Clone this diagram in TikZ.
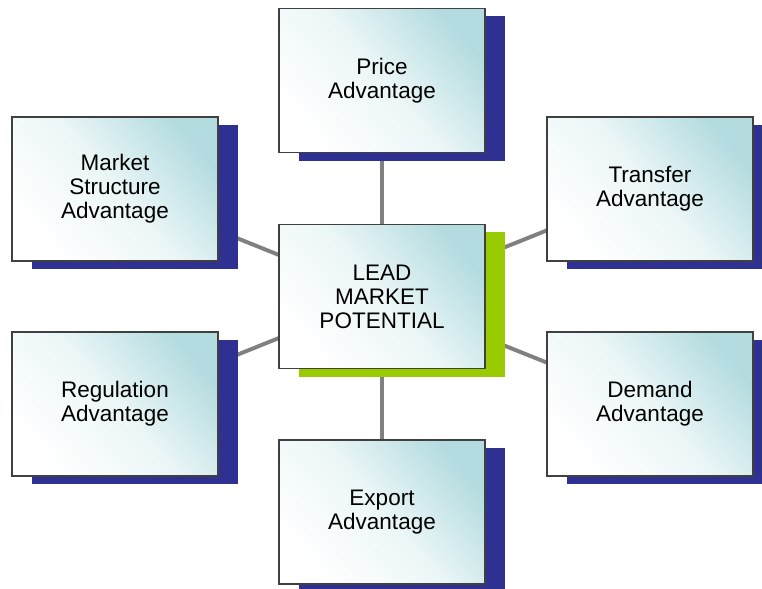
\documentclass[tikz,border=0pt]{standalone}
\usepackage{fontspec}
\setmainfont{Liberation Sans}
\usepackage{xcolor}
\usetikzlibrary{shadows,backgrounds}

\definecolor{shadownavy}{RGB}{46,49,146}
\definecolor{shadowgreen}{RGB}{153,204,0}
\definecolor{boxteal}{RGB}{180,220,224}
\definecolor{linkgray}{RGB}{128,128,128}

\tikzset{
    advbox/.style={draw=black!75, line width=0.8pt, minimum width=5.15cm, minimum height=3.6cm,
        align=center, font=\fontsize{16}{17}\selectfont,
        top color=boxteal, bottom color=white, middle color=boxteal!25, shading angle=-50,
        general shadow={fill=shadownavy, shadow xshift=0.5cm, shadow yshift=-0.2cm}},
    leadbox/.style={advbox, general shadow={fill=shadowgreen, shadow xshift=0.5cm, shadow yshift=-0.2cm}},
    link/.style={linkgray, line width=2.8pt}
}

\begin{document}
\begin{tikzpicture}[x=0.025cm, y=-0.025cm]
    \useasboundingbox (0,0) rectangle (762,589);

    % Centre
    \node[leadbox] (lead) at (382,296.5) {LEAD\\MARKET\\POTENTIAL};

    % Advantages
    \node[advbox] (price) at (382,80.5) {Price\\Advantage};
    \node[advbox] (structure) at (115,189) {Market\\Structure\\Advantage};
    \node[advbox] (transfer) at (650,189) {Transfer\\Advantage};
    \node[advbox] (regulation) at (115,404) {Regulation\\Advantage};
    \node[advbox] (demand) at (650,404) {Demand\\Advantage};
    \node[advbox] (export) at (382,512) {Export\\Advantage};

    % Links
    \begin{scope}[on background layer]
        \foreach \adv in {price,structure,transfer,regulation,demand,export}
            \draw[link] (lead.center) -- (\adv.center);
    \end{scope}
\end{tikzpicture}
\end{document}
